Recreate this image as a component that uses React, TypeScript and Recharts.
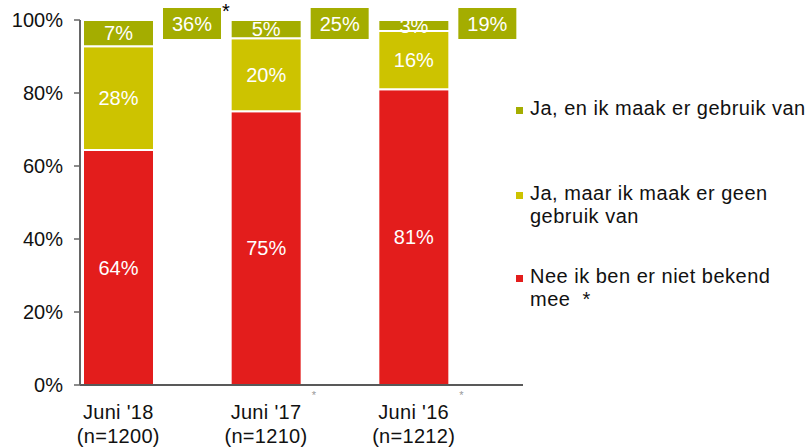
import { Bar, BarChart, LabelList, XAxis, YAxis } from "recharts";

const categories = ["Juni '18", "Juni '17", "Juni '16"];
const sampleSizes = ["(n=1200)", "(n=1210)", "(n=1212)"];
const nietBekend = [64.4, 75, 81];
const geenGebruik = [28.4, 20, 16];
const welGebruik = [7.2, 5, 3];
const totaalBekend = [36, 25, 19];
const totaalSignificant = [true, false, false];
const periodeSignificant = [false, true, true];
const yTicks = [0, 20, 40, 60, 80, 100];

const RED = "#e31d1c";
const YELLOW = "#cdc300";
const GREEN = "#a4ad00";
const FONT = "'Liberation Sans', Arial, sans-serif";
const BAR = 71;

const data = categories.map((label, i) => ({
  label,
  n: sampleSizes[i],
  nietBekend: nietBekend[i],
  geenGebruik: geenGebruik[i],
  welGebruik: welGebruik[i],
  totaal: totaalBekend[i],
}));

const legendItems = [
  { color: GREEN, lines: ["Ja, en ik maak er gebruik van"], top: 97 },
  { color: YELLOW, lines: ["Ja, maar ik maak er geen", "gebruik van"], top: 182 },
  { color: RED, lines: ["Nee ik ben er niet bekend", "mee  *"], top: 265 },
];

const pct = (v: any) => `${Math.round(Number(v))}%`;

function XTick(props: any) {
  const { x, y, payload, index } = props;
  const cx = x - BAR / 2;
  return (
    <g fontFamily={FONT} fontSize={20} letterSpacing={0.3}>
      <text x={cx} y={y + 34} textAnchor="middle" fill="#111">
        {payload.value}
      </text>
      <text x={cx} y={y + 58} textAnchor="middle" fill="#111">
        {sampleSizes[index]}
      </text>
      {periodeSignificant[index] && (
        <text x={cx + 48} y={y + 14} textAnchor="middle" fontSize={11} fill="#999">
          *
        </text>
      )}
    </g>
  );
}

function TotalBox(props: any) {
  const { x, y, index, payload, background } = props;
  const top = background?.y ?? y;
  const bx = x + 9;
  return (
    <g fontFamily={FONT}>
      <rect x={bx} y={top - 12} width={58} height={31} fill={GREEN} />
      <text x={bx + 29} y={top + 11} textAnchor="middle" fontSize={20} fill="#fff">
        {payload.totaal}%
      </text>
      {totaalSignificant[index] && (
        <text x={bx + 59} y={top - 2} fontSize={20} fill="#000">
          *
        </text>
      )}
    </g>
  );
}

function SideLegend() {
  return (
    <div
      style={{
        position: "absolute",
        left: 515,
        top: 0,
        width: 294,
        height: 447,
        fontFamily: FONT,
        fontSize: 20,
        letterSpacing: 0.5,
      }}
    >
      {legendItems.map((it) => (
        <div key={it.color} style={{ position: "absolute", left: 0, top: it.top }}>
          <span
            style={{
              position: "absolute",
              left: 1,
              top: 10,
              width: 7,
              height: 7,
              background: it.color,
            }}
          />
          <div style={{ marginLeft: 15, lineHeight: "23px", color: "#111" }}>
            {it.lines.map((l) => (
              <div key={l} style={{ whiteSpace: "pre" }}>{l}</div>
            ))}
          </div>
        </div>
      ))}
    </div>
  );
}

export default function App() {
  return (
    <div style={{ position: "absolute", left: 0, top: 0, width: 809, height: 447, background: "#fff" }}>
      <BarChart
        width={809}
        height={447}
        data={data}
        margin={{ top: 20, right: 286, bottom: 0, left: 0 }}
        barSize={BAR}
        barGap={0}
      >
        <XAxis
          dataKey="label"
          tick={<XTick />}
          tickLine={false}
          tickSize={0}
          tickMargin={0}
          height={62}
          axisLine={{ stroke: "#595959", strokeWidth: 2 }}
          interval={0}
        />
        <YAxis
          domain={[0, 100]}
          ticks={yTicks}
          tickFormatter={(v) => `${v}%`}
          width={80}
          tickSize={6}
          tickMargin={11}
          axisLine={{ stroke: "#666", strokeWidth: 2 }}
          tickLine={{ stroke: "#666", strokeWidth: 1.5 }}
          tick={{ fill: "#111", fontSize: 20, fontFamily: FONT }}
        />
        <Bar dataKey="nietBekend" stackId="a" fill={RED} stroke="#fff" strokeWidth={2} isAnimationActive={false}>
          <LabelList dataKey="nietBekend" position="center" formatter={pct} fill="#fff" fontSize={20} fontFamily={FONT} />
        </Bar>
        <Bar dataKey="geenGebruik" stackId="a" fill={YELLOW} stroke="#fff" strokeWidth={2} isAnimationActive={false}>
          <LabelList dataKey="geenGebruik" position="center" formatter={pct} fill="#fff" fontSize={20} fontFamily={FONT} />
        </Bar>
        <Bar dataKey="welGebruik" stackId="a" fill={GREEN} stroke="#fff" strokeWidth={2} isAnimationActive={false}>
          <LabelList dataKey="welGebruik" position="center" formatter={pct} fill="#fff" fontSize={20} fontFamily={FONT} />
        </Bar>
        <Bar dataKey="totaal" stackId="b" fill="transparent" shape={<TotalBox />} isAnimationActive={false} />
      </BarChart>
      <SideLegend />
    </div>
  );
}
